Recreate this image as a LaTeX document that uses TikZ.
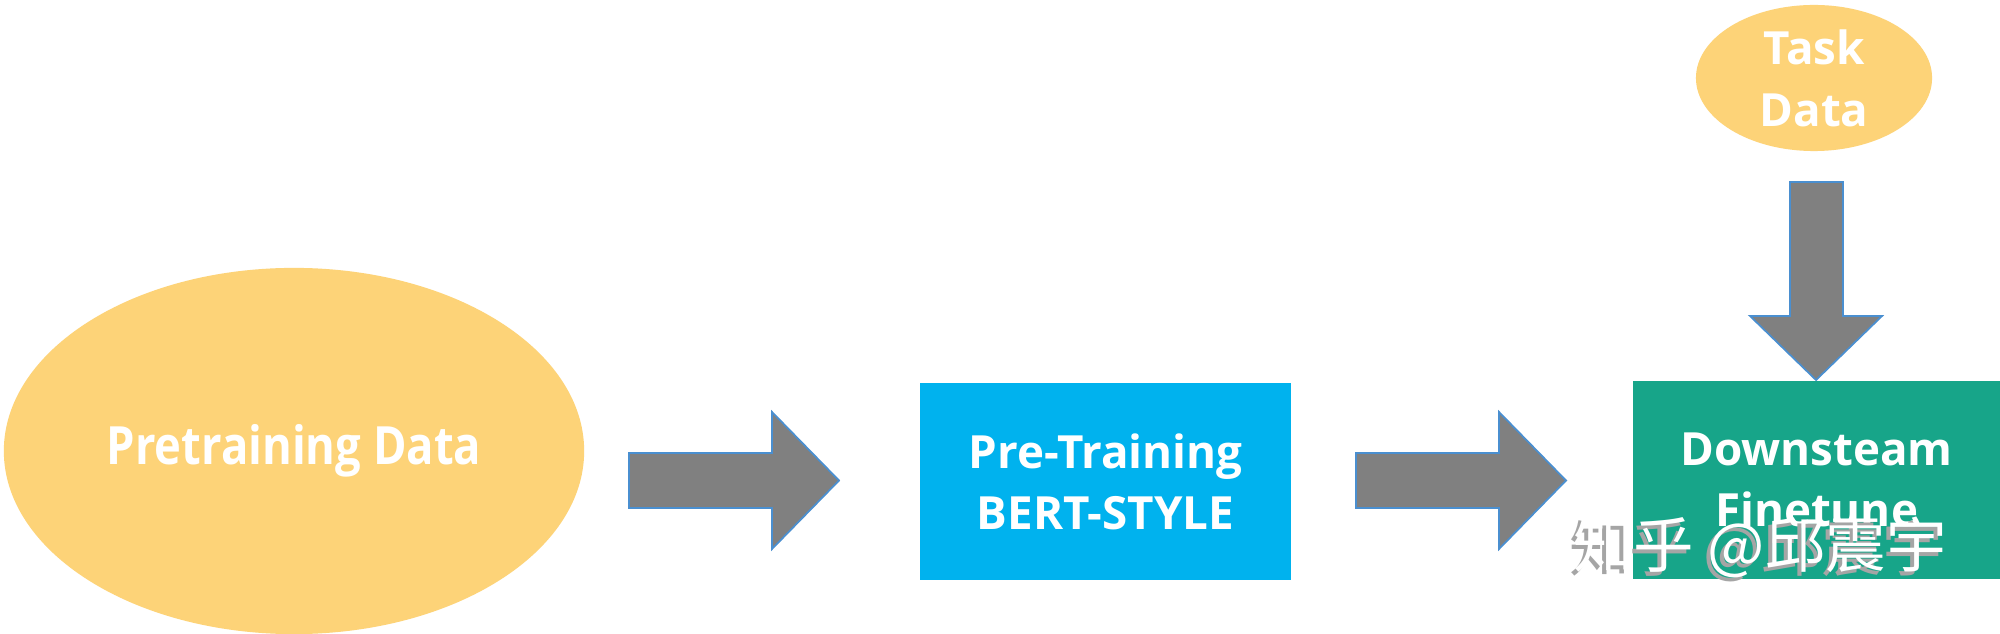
\documentclass[tikz,border=0pt]{standalone}
\usepackage{fontspec}
\setmainfont{Open Sans}
\newfontfamily\cjk{Noto Sans CJK SC}
\usetikzlibrary{shapes.geometric}
\definecolor{dataorange}{HTML}{FDD378}
\definecolor{preblue}{HTML}{00B2EE}
\definecolor{downteal}{HTML}{17A589}
\definecolor{arrowgray}{HTML}{808080}
\definecolor{arrowedge}{HTML}{4A8FD0}
\definecolor{wmshadow}{HTML}{A5A5A5}
\begin{document}
\begin{tikzpicture}[x=0.01cm,y=-0.01cm,
  datanode/.style={ellipse, fill=dataorange, text=white, inner sep=0pt, align=center,
    font=\fontsize{13}{17.6}\selectfont\bfseries},
  boxnode/.style={rectangle, inner sep=0pt, text=white, align=center,
    minimum width=3.71cm, minimum height=1.97cm,
    font=\fontsize{13}{17.4}\selectfont\bfseries},
  blockarrow/.style={fill=arrowgray, draw=arrowedge, line width=0.5pt, line join=miter},
  wmtext/.style={inner sep=0pt, font=\cjk\fontsize{17.2}{18}\selectfont}]
\useasboundingbox (0,0) rectangle (2000,634);
\clip (0,0) rectangle (2000,634);
\fill[white] (0,0) rectangle (2000,634);

% nodes
\node[datanode, minimum width=5.8cm, minimum height=3.66cm] (pdata) at (294,451)
  {\fontsize{15}{17}\selectfont\scalebox{0.86}[1]{Pretraining Data}};
\node[boxnode, fill=preblue] (pretrain) at (1105.5,481.5) {Pre-Training\\BERT-STYLE};
\node[boxnode, fill=downteal, minimum width=3.67cm] (finetune) at (1816.5,480) {Downsteam\\Finetune};
\node[datanode, minimum width=2.36cm, minimum height=1.46cm] (tdata) at (1814,78) {Task\\Data};

% block arrows
\draw[blockarrow] (629,453) -- (772,453) -- (772,412) -- (839,480.5) -- (772,549) -- (772,508) -- (629,508) -- cycle;
\draw[blockarrow] (1356,453) -- (1499,453) -- (1499,412) -- (1566,480.5) -- (1499,549) -- (1499,508) -- (1356,508) -- cycle;
\draw[blockarrow] (1790,182) -- (1843,182) -- (1843,316) -- (1882,316) -- (1816,380) -- (1750,316) -- (1790,316) -- cycle;

% watermark
\node[wmtext, text=wmshadow] (wmshade) at (1756,551) {知乎 @邱震宇};
\node[wmtext, text=white] (wm) at (1760,547) {知乎 @邱震宇};
\end{tikzpicture}
\end{document}
